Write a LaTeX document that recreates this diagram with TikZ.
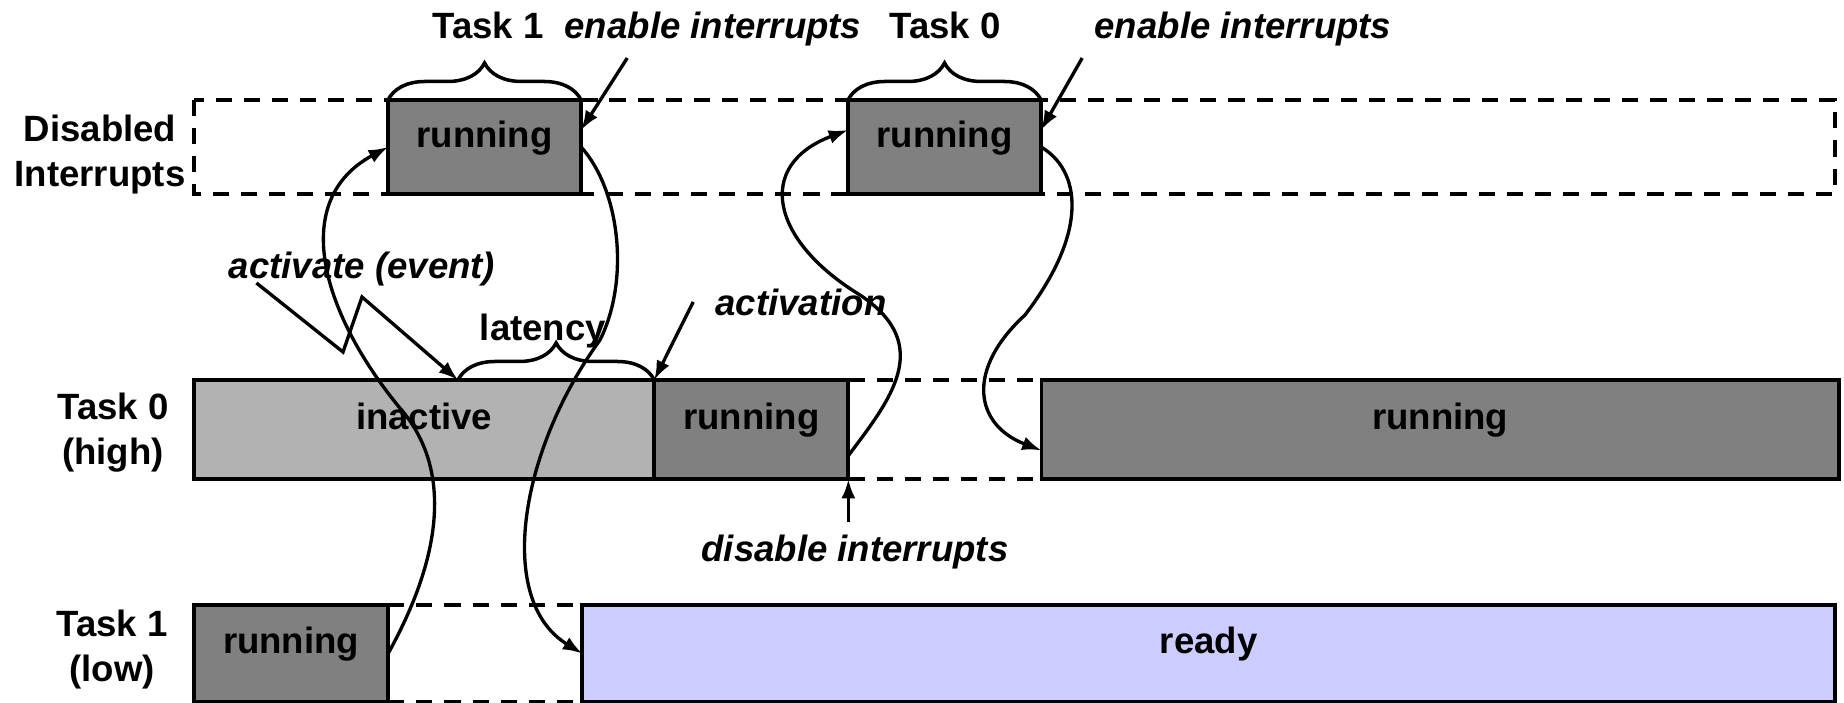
\documentclass[tikz,border=0pt]{standalone}
\usepackage{fontspec}
\setmainfont{Liberation Sans}
\usetikzlibrary{positioning,arrows.meta,decorations.pathreplacing}

\definecolor{rungray}{HTML}{808080}
\definecolor{inactgray}{HTML}{B2B2B2}
\definecolor{readyblue}{HTML}{CCCCFF}

\begin{document}
\begin{tikzpicture}[x=0.01cm, y=-0.01cm,
    every node/.style={font=\fontsize{10.4}{12.8}\selectfont\bfseries},
    note/.style={font=\fontsize{10.4}{12.8}\selectfont\bfseries\itshape},
    box/.style={draw, line width=1.1pt, inner sep=0pt, outer sep=0pt, anchor=north west,
        text height=0.72em, text depth=0.72em},
    gap/.style={line width=0.95pt, dash pattern=on 4.6pt off 3.4pt},
    brc/.style={decorate, decoration={brace, amplitude=0.37cm}, line width=1pt},
    arr/.style={-{Latex[length=5.5pt,width=4pt]}, line width=0.95pt}]
    \useasboundingbox (0,0) rectangle (1844,703);

    % disabled interrupts frame
    \draw[gap] (194,100) rectangle (1835,194);

    \node (t1top) [box, fill=rungray, minimum width=1.93cm, minimum height=0.94cm] at (388,100) {running};
    \node (t0top) [box, fill=rungray, minimum width=1.93cm, minimum height=0.94cm] at (848,100) {running};

    \node (inact) [box, fill=inactgray, minimum width=4.60cm, minimum height=0.99cm] at (194,380) {inactive};
    \node (t0run1) [box, fill=rungray, minimum width=1.94cm, minimum height=0.99cm, right=0cm of inact] {running};
    \node (t0run2) [box, fill=rungray, minimum width=7.97cm, minimum height=0.99cm, right=1.93cm of t0run1] {running};

    \node (t1run) [box, fill=rungray, minimum width=1.94cm, minimum height=0.97cm] at (194,605) {running};
    \node (t1ready) [box, fill=readyblue, minimum width=12.52cm, minimum height=0.97cm, right=1.94cm of t1run] {ready};

    \draw[gap] (t0run1.north east) -- (t0run2.north west);
    \draw[gap] (t0run1.south east) -- (t0run2.south west);
    \draw[gap] (t1run.north east) -- (t1ready.north west);
    \draw[gap] (t1run.south east) -- (t1ready.south west);

    % row labels
    \node (dislbl) [align=center] at (100,155) {Disabled\\Interrupts};
    \node (t0lbl) [align=center] at (113,433) {Task 0\\(high)};
    \node (t1lbl) [align=center] at (112,650) {Task 1\\(low)};

    % top labels and braces
    \node (t1name) [anchor=base] at (488,38) {Task 1};
    \node (en1) [note, anchor=base] at (713,38) {enable interrupts};
    \node (t0name) [anchor=base] at (945,38) {Task 0};
    \node (en2) [note, anchor=base] at (1243,38) {enable interrupts};
    \draw[brc] (t1top.north west) -- (t1top.north east);
    \draw[brc] (t0top.north west) -- (t0top.north east);
    \draw[arr] ([xshift=0.75cm]en1.south west) -- (t1top.10);
    \draw[arr] (en2.south west) -- (t0top.10);

    % latency
    \coordinate (latL) at (458,380);
    \draw[brc] (latL) -- (t0run1.north west);
    \node (latlbl) [anchor=base] at (543,340) {latency};
    \node (actlbl) [note, anchor=base] at (362,278) {activate (event)};
    \node (activ) [note, anchor=base] at (801,315) {activation};
    \draw[arr] ([xshift=0.4cm, yshift=0.15cm]actlbl.south west) -- (343,352) -- (362,297) -- (latL);
    \draw[arr] ([xshift=-0.1cm]activ.west) -- (t0run1.north west);

    \node (dislbl2) [note, anchor=base] at (855,561) {disable interrupts};
    \draw[arr] (t0run1.south east |- dislbl2.north) -- (t0run1.south east);

    % task switches
    \draw[arr] (t1run.east) .. controls (440,560) and (455,470) .. (399,407)
        .. controls (320,310) and (290,200) .. (t1top.west);
    \draw[arr] (t1top.east) .. controls (620,190) and (630,280) .. (600,340)
        .. controls (520,450) and (495,600) .. (t1ready.west);
    \draw[arr] (t0run1.345) .. controls (890,400) and (935,345) .. (860,295)
        .. controls (770,240) and (755,165) .. (t0top.170);
    \draw[arr] (t0top.east) .. controls (1080,170) and (1090,230) .. (1025,315)
        .. controls (965,370) and (975,425) .. (t0run2.183);
\end{tikzpicture}
\end{document}
